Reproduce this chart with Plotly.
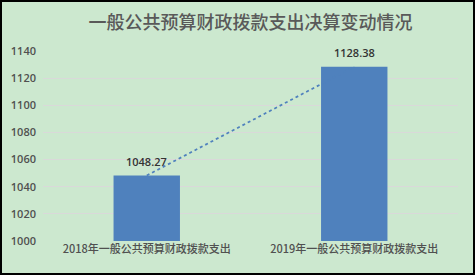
import plotly.graph_objects as go

categories = ["2018年一般公共预算财政拨款支出", "2019年一般公共预算财政拨款支出"]
values = [1048.27, 1128.38]
value_labels = ["1048.27", "1128.38"]
y_ticks = [1000, 1020, 1040, 1060, 1080, 1100, 1120, 1140]
title_text = "一般公共预算财政拨款支出决算变动情况"

W, H = 475, 275
ml, mr, mt, mb = 43, 17, 51, 34
pw, ph = W - ml - mr, H - mt - mb

bar_color = "#4F81BD"
bg = "#CCE8CF"

fig = go.Figure()
fig.add_trace(go.Bar(
    x=categories, y=values, marker_color=bar_color, width=0.32,
    marker_line_width=0, showlegend=False, hoverinfo="skip",
))
fig.add_trace(go.Scatter(
    x=categories, y=values, mode="lines",
    line=dict(color=bar_color, width=1.75, dash="dot"),
    showlegend=False, hoverinfo="skip",
))
for c, v, t in zip(categories, values, value_labels):
    fig.add_annotation(x=c, y=v, text=t, showarrow=False, yshift=14,
                       yanchor="middle",
                       font=dict(family="Open Sans, Noto Sans", size=11, color="#333333", weight=600))

# figure border
fig.add_shape(type="rect", xref="paper", yref="paper",
              x0=(-ml + 1) / pw, x1=1 + (mr - 1) / pw,
              y0=(-mb + 1) / ph, y1=1 + (mt - 1) / ph,
              line=dict(color="#000000", width=2), layer="above")

fig.update_layout(
    width=W, height=H,
    margin=dict(l=ml, r=mr, t=mt, b=mb),
    paper_bgcolor=bg, plot_bgcolor=bg,
    title=dict(text=title_text, x=0.5, xref="paper", xanchor="center",
               y=1 - 23 / H, yref="container", yanchor="middle",
               font=dict(family="Noto Sans CJK SC", size=18, color="#595959", weight=500)),
    xaxis=dict(showgrid=False, showline=False, zeroline=False,
               tickfont=dict(family="Noto Sans CJK SC", size=11, color="#505050", weight=500),
               ticks="", fixedrange=True),
    yaxis=dict(range=[1000, 1140], tickvals=y_ticks, showgrid=True,
               gridcolor="#D9D9D9", gridwidth=1, zeroline=False, showline=False,
               tickfont=dict(family="Open Sans, Noto Sans", size=11, color="#505050", weight=600),
               ticks="", ticklabelstandoff=6),
    bargap=0.68,
)

fig.write_html("out.html")
